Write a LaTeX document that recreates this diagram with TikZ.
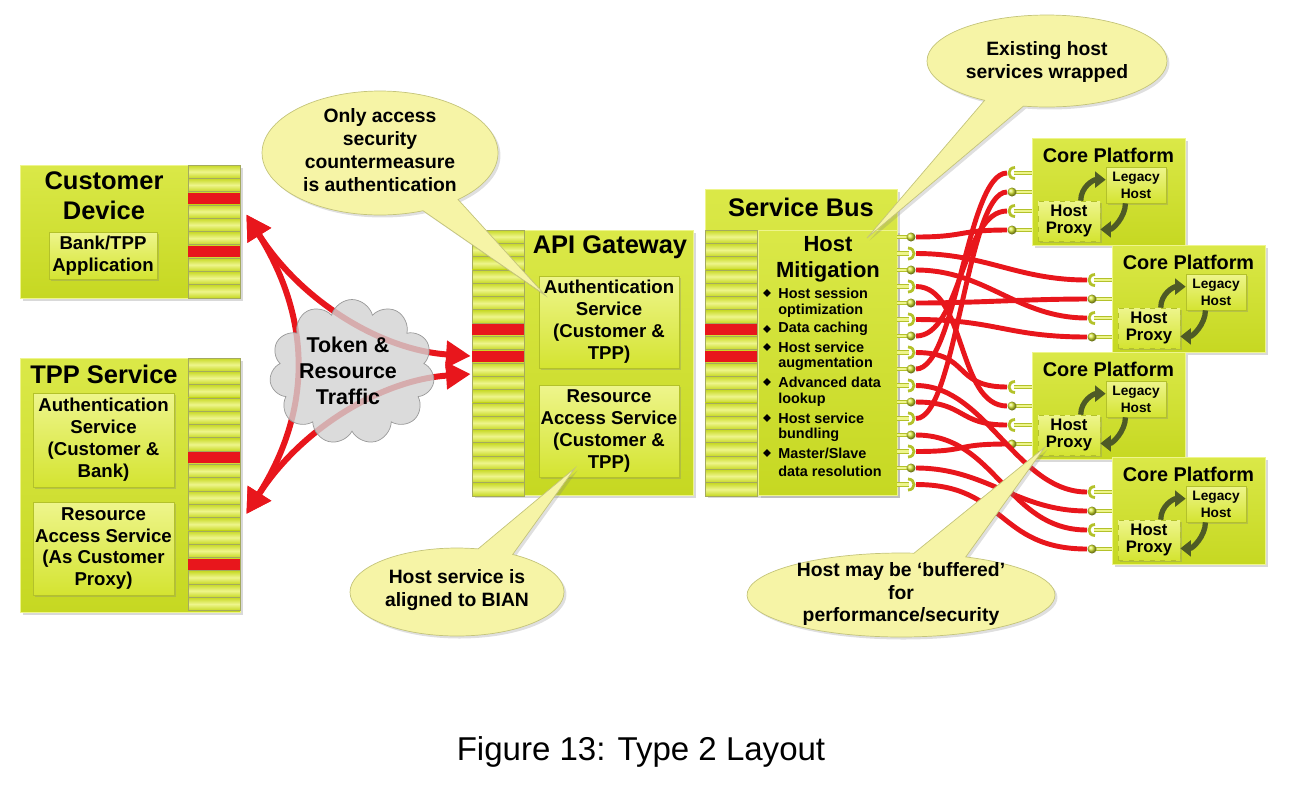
\documentclass[tikz,border=0pt]{standalone}
\usepackage{fontspec}
\setmainfont{Liberation Sans}
\usetikzlibrary{arrows.meta,shapes.symbols,shapes.callouts,shadows}

\definecolor{boxlime}{HTML}{D4E431}
\definecolor{boxlight}{HTML}{EEF58C}
\definecolor{boxedge}{HTML}{B3C12A}
\definecolor{boxdark}{HTML}{C6D822}
\definecolor{divider}{HTML}{A4AA5E}
\definecolor{wirered}{HTML}{E8161C}
\definecolor{bubble}{HTML}{F6F4A6}
\definecolor{bubbleline}{HTML}{C4C47A}
\definecolor{swapolive}{HTML}{4E5A26}
\definecolor{cloudgray}{HTML}{D2D2D2}

\begin{document}
\begin{tikzpicture}[
    x=0.02cm, y=-0.02cm,
    panel/.style={rectangle, draw=boxlight, top color=boxlime!75!boxlight, bottom color=boxdark, inner sep=0,
        drop shadow={shadow xshift=0.06cm, shadow yshift=-0.06cm, opacity=0.3}},
    inbox/.style={rectangle, draw=boxedge, top color=boxlight, bottom color=boxlime, inner sep=0, align=center,
        font=\bfseries\fontsize{10.6}{12.5}\selectfont,
        drop shadow={shadow xshift=0.04cm, shadow yshift=-0.04cm, opacity=0.3}},
    proxybox/.style={inbox, dashed, font=\bfseries\fontsize{9.5}{9.8}\selectfont},
    stripe/.style={draw=divider, line width=0.4pt, top color=boxdark, bottom color=boxdark, middle color=boxlight},
    paneltitle/.style={font=\bfseries\fontsize{14.5}{17}\selectfont, align=center, inner sep=0},
    subtitle/.style={font=\bfseries\fontsize{12.5}{14.7}\selectfont, align=center, inner sep=0},
    bullettext/.style={font=\bfseries\fontsize{8.2}{10}\selectfont, anchor=west, inner sep=0},
    portstub/.style={draw=boxedge, double=boxlight, double distance=1.6pt, line width=0.4pt},
    porthook/.style={draw=boxedge, line width=1.6pt},
    portball/.style={circle, minimum size=0.18cm, inner sep=0, ball color=boxlime},
    wireline/.style={draw=wirered, line width=2.8pt},
    traffic/.style={draw=wirered, line width=3.4pt,
        {Triangle[length=14pt,width=15pt]}-{Triangle[length=14pt,width=15pt]}},
    cycarrow/.style={draw=swapolive, line width=3pt, -{Triangle[length=6pt,width=9pt]}},
    callout/.style={ellipse callout, draw=bubbleline, fill=bubble, inner sep=0, callout pointer arc=20,
        drop shadow={shadow xshift=0.05cm, shadow yshift=-0.05cm, opacity=0.25}},
    notetext/.style={font=\bfseries\fontsize{11}{13}\selectfont, align=center, inner sep=0}
]
\useasboundingbox (0,0) rectangle (1291,796);

% === CLIENTS (left) ===
\node[panel, minimum width=4.4cm, minimum height=2.66cm] (cd) at (130,231.5) {};
\node[paneltitle] (cdtitle) at (104,196) {Customer\\Device};
\node[inbox, minimum width=2.16cm, minimum height=0.94cm] (cdapp) at (103,255.5) {Bank/TPP\\Application};

\node[panel, minimum width=4.4cm, minimum height=5.08cm] (tpp) at (130,485) {};
\node[paneltitle] (tpptitle) at (104,374) {TPP Service};
\node[inbox, minimum width=2.82cm, minimum height=1.88cm] (tppauth) at (103.5,440) {Authentication\\Service\\(Customer \&\\Bank)};
\node[inbox, minimum width=2.82cm, minimum height=1.86cm] (tppres) at (103.5,548.5) {Resource\\Access Service\\(As Customer\\Proxy)};

% === API GATEWAY ===
\node[panel, minimum width=4.42cm, minimum height=5.3cm] (api) at (582.5,362.5) {};
\node[paneltitle] (apititle) at (610,247) {API Gateway};
\node[inbox, minimum width=2.8cm, minimum height=1.84cm] (apiauth) at (609,322) {Authentication\\Service\\(Customer \&\\TPP)};
\node[inbox, minimum width=2.8cm, minimum height=1.84cm] (apires) at (609,431) {Resource\\Access Service\\(Customer \&\\TPP)};

% === SERVICE BUS ===
\node[panel, minimum width=3.84cm, minimum height=6.12cm] (sb) at (801,342) {};
\node[paneltitle] (sbtitle) at (801,207) {Service Bus};
\node[panel, minimum width=2.78cm, minimum height=5.3cm] (hostmit) at (827.5,362.5) {};
\node[subtitle] (hmtitle) at (828,259) {Host\\Mitigation};

% Host mitigation list
\foreach \y/\t/\d [count=\i] in {293/Host session/1, 311/optimization/0, 329/Data caching/1,
    347/Host service/1, 364/augmentation/0, 382/Advanced data/1, 400/lookup/0,
    418/Host service/1, 435/bundling/0, 453/{Master/Slave}/1, 471/data resolution/0} {
    \node[bullettext] (hm\i) at (778,\y) {\t};
    \ifnum\d=1\relax
        \fill (767,\y-3.8) -- (770.8,\y) -- (767,\y+3.8) -- (763.2,\y) -- cycle;
    \fi
}

% Stripe columns
\foreach \x/\top/\n in {188/165/9, 188/358/18, 472/230/19, 705/230/19} {
    \foreach \i in {0,...,\n} {
        \pgfmathsetmacro{\y}{\top + \i*13.3}
        \draw[stripe] (\x,\y) rectangle (\x+52,\y+13.3);
    }
}
% Busy stripes
\foreach \x/\y in {188/191.6, 188/244.8, 188/451.1, 188/557.5, 472/323.1, 472/349.7, 705/323.1, 705/349.7}
    \fill[wirered] (\x,\y+1.2) rectangle (\x+52,\y+12.1);

% === TRAFFIC ===
\coordinate (cdtip) at ([shift={(6,-17)}]cd.east);
\coordinate (tpptip) at ([shift={(6,29)}]tpp.east);
\coordinate (apitipA) at ([shift={(-1,-6.5)}]api.west);
\coordinate (apitipB) at ([shift={(-1,11.5)}]api.west);
\draw[traffic] (cdtip) .. controls (300,300) and (380,350) .. (apitipA);
\draw[traffic] (tpptip) .. controls (300,430) and (380,380) .. (apitipB);
\draw[traffic] (cdtip) .. controls (312,320) and (312,410) .. (tpptip);

\node[cloud, cloud puffs=11, cloud ignores aspect, draw=gray!80, fill=cloudgray, fill opacity=0.8,
    minimum width=3.3cm, minimum height=2.9cm, inner sep=0] (traffic) at (352,372) {};
\node[subtitle, font=\bfseries\fontsize{12.2}{14.7}\selectfont] (traffictext) at (348,371) {Token \&\\Resource\\Traffic};

% === CORE PLATFORMS (right) ===
\foreach \n/\x/\y in {1/1032/138, 2/1112/245, 3/1032/352, 4/1112/457} {
    \node[panel, minimum width=3.06cm, minimum height=2.14cm] (cp\n) at (\x+76.5,\y+53.5) {};
    \node[subtitle, font=\bfseries\fontsize{11.3}{13}\selectfont] (cptitle\n) at (\x+76.5,\y+17) {Core Platform};
    \node[inbox, minimum width=1.2cm, minimum height=0.72cm, font=\bfseries\fontsize{7.8}{9.5}\selectfont] (legacy\n) at (\x+104,\y+47) {Legacy\\Host};
    \node[proxybox, minimum width=1.24cm, minimum height=0.8cm] (proxy\n) at (\x+37,\y+83) {Host\\Proxy};
    \draw[cycarrow] (proxy\n.60) .. controls +(0,-14) and +(-12,0) .. (legacy\n.170);
    \draw[cycarrow] (legacy\n.-120) .. controls +(0,14) and +(12,0) .. (proxy\n.-15);
    \foreach \j in {0,...,3} {
        \pgfmathsetmacro{\py}{\y+35+\j*19}
        \draw[portstub] (\x-18,\py) -- (\x,\py);
        \coordinate (cp\n-\j) at (\x-25,\py);
        \ifodd\j
            \node[portball] (cpball\n-\j) at (\x-20,\py) {};
        \else
            \draw[porthook] (\x-17,\py-5.5) .. controls (\x-25,\py-5.5) and (\x-25,\py+5.5) .. (\x-17,\py+5.5);
        \fi
    }
}

% Service bus ports
\foreach \k in {0,...,15} {
    \pgfmathsetmacro{\py}{237+\k*16.5}
    \draw[portstub] (897,\py) -- (909,\py);
    \coordinate (sb\k) at (916,\py);
    \ifodd\k
        \draw[porthook] (908,\py-5.5) .. controls (916,\py-5.5) and (916,\py+5.5) .. (908,\py+5.5);
    \else
        \node[portball] (sbball\k) at (911,\py) {};
    \fi
}

% Wiring bus -> platforms
\foreach \k/\n/\j/\c in {0/1/3/50, 1/2/0/70, 2/2/2/70, 3/3/1/50, 4/2/1/60, 5/2/3/80, 6/1/2/45, 7/3/0/55,
    8/1/0/40, 9/4/0/70, 10/3/2/50, 11/1/1/40, 12/4/2/80, 13/3/3/55, 14/4/1/70, 15/4/3/90}
    \draw[wireline] (sb\k) .. controls +(\c,0) and +(-\c,0) .. (cp\n-\j);

% === CALLOUTS ===
\node[callout, minimum width=4.72cm, minimum height=2.48cm, callout absolute pointer={(545,295)}] (noteauth) at (380,153) {};
\node[notetext] (noteauthtext) at (380,150) {Only access\\security\\countermeasure\\is authentication};

\node[callout, minimum width=4.8cm, minimum height=1.84cm, callout absolute pointer={(867,238)}] (notewrap) at (1047,61) {};
\node[notetext] (notewraptext) at (1047,62) {Existing host\\services wrapped};

\node[callout, minimum width=4.28cm, minimum height=1.76cm, callout absolute pointer={(575,468)}] (notebian) at (457,592) {};
\node[notetext] (notebiantext) at (457,590) {Host service is\\aligned to BIAN};

\node[callout, minimum width=6.16cm, minimum height=1.68cm, callout absolute pointer={(1045,447)}] (notebuffer) at (901,595) {};
\node[notetext] (notebuffertext) at (901,594) {Host may be `buffered'\\for\\performance/security};

% Caption
\node[font=\fontsize{18.8}{22}\selectfont, inner sep=0] (caption) at (641,752) {Figure 13: Type 2 Layout};

\end{tikzpicture}
\end{document}
